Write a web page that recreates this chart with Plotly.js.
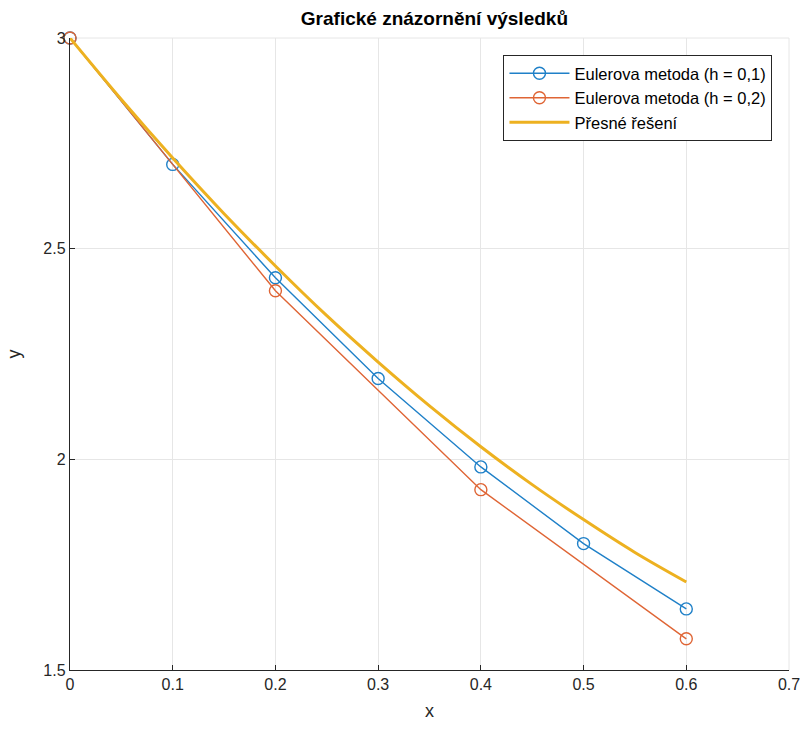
<!DOCTYPE html>
<html><head><meta charset="utf-8">
<script src="https://cdn.plot.ly/plotly-3.0.1.min.js"></script>
<style>html,body{margin:0;padding:0;background:#fff;}#chart{width:803px;height:729px;}</style>
</head><body><div id="chart"></div>
<script>
const xEuler1 = [0, 0.1, 0.2, 0.3, 0.4, 0.5, 0.6];
const yEuler1 = [3, 2.7, 2.431, 2.192, 1.982, 1.800, 1.645];
const xEuler2 = [0, 0.2, 0.4, 0.6];
const yEuler2 = [3, 2.4, 1.928, 1.574];
const xExact = [0, 0.05, 0.1, 0.15, 0.2, 0.25, 0.3, 0.35, 0.4, 0.45, 0.5, 0.55, 0.6];
const yExact = [3, 2.854, 2.715, 2.583, 2.459, 2.341, 2.231, 2.127, 2.030, 1.940, 1.857, 1.779, 1.709];
const xTicks = [0, 0.1, 0.2, 0.3, 0.4, 0.5, 0.6, 0.7];
const yTicks = [1.5, 2, 2.5, 3];
const yTickText = ['1.5', '2', '2.5', '3'];
const names = ['Eulerova metoda (h = 0,1)', 'Eulerova metoda (h = 0,2)', 'Přesné řešení'];

const traces = [
  {x: xEuler1, y: yEuler1, name: names[0], mode: 'lines+markers', type: 'scatter', cliponaxis: false,
   line: {color: '#1f80c8', width: 1.4}, marker: {symbol: 'circle-open', size: 12, color: '#1f80c8', line: {width: 1.4}}},
  {x: xEuler2, y: yEuler2, name: names[1], mode: 'lines+markers', type: 'scatter', cliponaxis: false,
   line: {color: '#df6535', width: 1.4}, marker: {symbol: 'circle-open', size: 12, color: '#df6535', line: {width: 1.4}}},
  {x: xExact, y: yExact, name: names[2], mode: 'lines', type: 'scatter', cliponaxis: false,
   line: {color: '#EDB120', width: 3, shape: 'spline'}}
];

const layout = {
  width: 803, height: 729,
  margin: {l: 70, r: 14, t: 38, b: 59},
  paper_bgcolor: '#fff', plot_bgcolor: '#fff',
  font: {family: 'Liberation Sans, Arial, sans-serif', size: 15, color: '#262626'},
  title: {text: '<b>Grafické znázornění výsledků</b>', x: 0.541, xanchor: 'center', y: 0.975, yanchor: 'middle',
          font: {size: 19, color: '#000'}},
  xaxis: {range: [0, 0.7], tickvals: xTicks, ticktext: xTicks.map(String),
          showgrid: true, gridcolor: '#e6e6e6', gridwidth: 1, zeroline: false,
          showline: true, linecolor: '#262626', linewidth: 1.2, ticks: 'inside', ticklen: 5, tickcolor: '#262626',
          tickfont: {size: 16}, mirror: false,
          title: {text: 'x', font: {size: 18}, standoff: 12}},
  yaxis: {range: [1.5, 3], tickvals: yTicks, ticktext: yTickText,
          showgrid: true, gridcolor: '#e6e6e6', gridwidth: 1, zeroline: false,
          showline: true, linecolor: '#262626', linewidth: 1.2, ticks: 'inside', ticklen: 5, tickcolor: '#262626',
          tickfont: {size: 16},
          title: {text: 'y', font: {size: 18}, standoff: 18}},
  legend: {x: 0.977, xanchor: 'right', y: 0.973, yanchor: 'top', bgcolor: '#fff',
           bordercolor: '#262626', borderwidth: 1, font: {size: 16.5, color: '#000'},
           tracegroupgap: 0, itemwidth: 60},
  showlegend: true
};

const shapes = [
  {type: 'line', xref: 'paper', yref: 'paper', x0: 0, x1: 1, y0: 1, y1: 1, line: {color: '#e6e6e6', width: 1}, layer: 'below'},
  {type: 'line', xref: 'paper', yref: 'paper', x0: 1, x1: 1, y0: 0, y1: 1, line: {color: '#e6e6e6', width: 1}, layer: 'below'}
];
layout.shapes = shapes;

Plotly.newPlot('chart', traces, layout, {displayModeBar: false, staticPlot: true});
</script>
</body></html>
